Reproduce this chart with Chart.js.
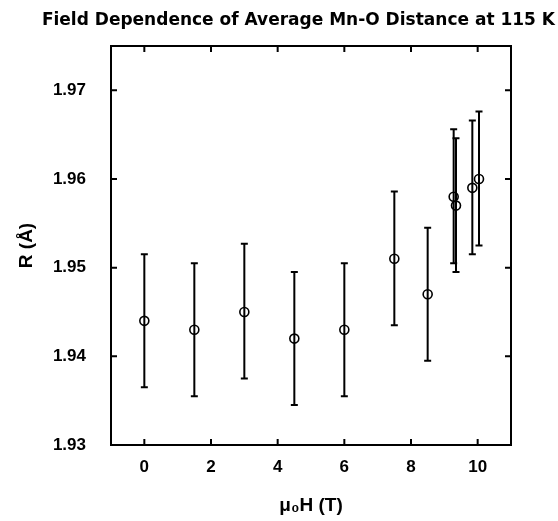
<!DOCTYPE html>
<html>
<head>
<meta charset="utf-8">
<script src="https://cdn.jsdelivr.net/npm/chart.js@4"></script>
<style>
    html, body { margin: 0; padding: 0; background: #fff; }
    #wrap { width: 558px; height: 521px; }
</style>
</head>
<body>
<div id="wrap"><canvas id="chart" width="558" height="521"></canvas></div>
<script>
// field values (T) and average Mn-O distance (Å)
const fieldValues = [0, 1.5, 3, 4.5, 6, 7.5, 8.5, 9.28, 9.35, 9.84, 10.04];
const distances = [1.944, 1.943, 1.945, 1.942, 1.943, 1.951, 1.947, 1.958, 1.957, 1.959, 1.960];
const errLow = [1.9365, 1.9355, 1.9375, 1.9345, 1.9355, 1.9435, 1.9395, 1.9505, 1.9495, 1.9515, 1.9525];
const errHigh = [1.9515, 1.9505, 1.9527, 1.9495, 1.9505, 1.9586, 1.9545, 1.9656, 1.9646, 1.9666, 1.9676];

const xTicks = [0, 2, 4, 6, 8, 10];
const yTicks = [1.93, 1.94, 1.95, 1.96, 1.97];

const tickFont = { family: 'Liberation Sans, Arial, sans-serif', size: 17, weight: 'bold' };
const axisTitleFont = { family: 'Liberation Sans, Arial, sans-serif', size: 19, weight: 'bold' };

// error bars drawn with the chart's own scales
const errorBars = {
    id: 'errorBars',
    beforeDatasetsDraw(chart) {
        const { ctx, scales: { x, y } } = chart;
        ctx.save();
        ctx.strokeStyle = '#000';
        ctx.lineWidth = 2;
        fieldValues.forEach((fv, i) => {
            const px = x.getPixelForValue(fv);
            const top = y.getPixelForValue(errHigh[i]);
            const bot = y.getPixelForValue(errLow[i]);
            ctx.beginPath();
            ctx.moveTo(px, top);
            ctx.lineTo(px, bot);
            ctx.moveTo(px - 3.5, top);
            ctx.lineTo(px + 3.5, top);
            ctx.moveTo(px - 3.5, bot);
            ctx.lineTo(px + 3.5, bot);
            ctx.stroke();
        });
        ctx.restore();
    }
};

// box frame with inward ticks on all four sides
const frame = {
    id: 'frame',
    afterDraw(chart) {
        const { ctx, chartArea: a, scales: { x, y } } = chart;
        ctx.save();
        ctx.strokeStyle = '#000';
        ctx.lineWidth = 2;
        ctx.strokeRect(a.left, a.top, a.right - a.left, a.bottom - a.top);
        ctx.beginPath();
        xTicks.forEach(v => {
            const px = x.getPixelForValue(v);
            ctx.moveTo(px, a.bottom);
            ctx.lineTo(px, a.bottom - 6);
            ctx.moveTo(px, a.top);
            ctx.lineTo(px, a.top + 6);
        });
        yTicks.forEach(v => {
            const py = y.getPixelForValue(v);
            ctx.moveTo(a.left, py);
            ctx.lineTo(a.left + 6, py);
            ctx.moveTo(a.right, py);
            ctx.lineTo(a.right - 6, py);
        });
        ctx.stroke();
        ctx.restore();
    }
};

new Chart(document.getElementById('chart'), {
    type: 'scatter',
    data: {
        datasets: [{
            label: 'R',
            data: fieldValues.map((fv, i) => ({ x: fv, y: distances[i] })),
            pointStyle: 'circle',
            pointRadius: 4.5,
            pointBorderWidth: 1.6,
            borderColor: '#000',
            backgroundColor: 'rgba(0,0,0,0)'
        }]
    },
    options: {
        responsive: false,
        animation: false,
        layout: { padding: { left: 0, right: 3, top: 0, bottom: 0 } },
        plugins: {
            legend: { display: false },
            tooltip: { enabled: false },
            title: {
                display: true,
                text: 'Field Dependence of Average Mn-O Distance at 115 K',
                align: 'end',
                color: '#000',
                font: { family: 'DejaVu Sans, sans-serif', size: 17, weight: 'bold' },
                padding: { top: 10, bottom: 15.6 }
            }
        },
        scales: {
            x: {
                type: 'linear',
                min: -1,
                max: 11,
                afterBuildTicks: s => { s.ticks = xTicks.map(v => ({ value: v })); },
                afterFit: s => { s.height = 76; },
                grid: { display: false },
                border: { display: false },
                ticks: { color: '#000', font: tickFont, padding: 4, maxRotation: 0 },
                title: {
                    display: true,
                    text: 'μ₀H (T)',
                    color: '#000',
                    font: axisTitleFont,
                    padding: { top: 0, bottom: 4 }
                }
            },
            y: {
                type: 'linear',
                min: 1.93,
                max: 1.975,
                afterBuildTicks: s => { s.ticks = yTicks.map(v => ({ value: v })); },
                afterFit: s => { s.width = 111; },
                grid: { display: false },
                border: { display: false },
                ticks: { color: '#000', font: tickFont, padding: 17, callback: v => v.toFixed(2) },
                title: {
                    display: true,
                    text: 'R (Å)',
                    color: '#000',
                    font: axisTitleFont,
                    padding: { top: 15, bottom: 0 }
                }
            },
            y2: {
                type: 'linear',
                position: 'right',
                min: 0,
                max: 1,
                afterFit: s => { s.width = 44; },
                grid: { display: false },
                border: { display: false },
                ticks: { display: false }
            }
        }
    },
    plugins: [errorBars, frame]
});
</script>
</body>
</html>
